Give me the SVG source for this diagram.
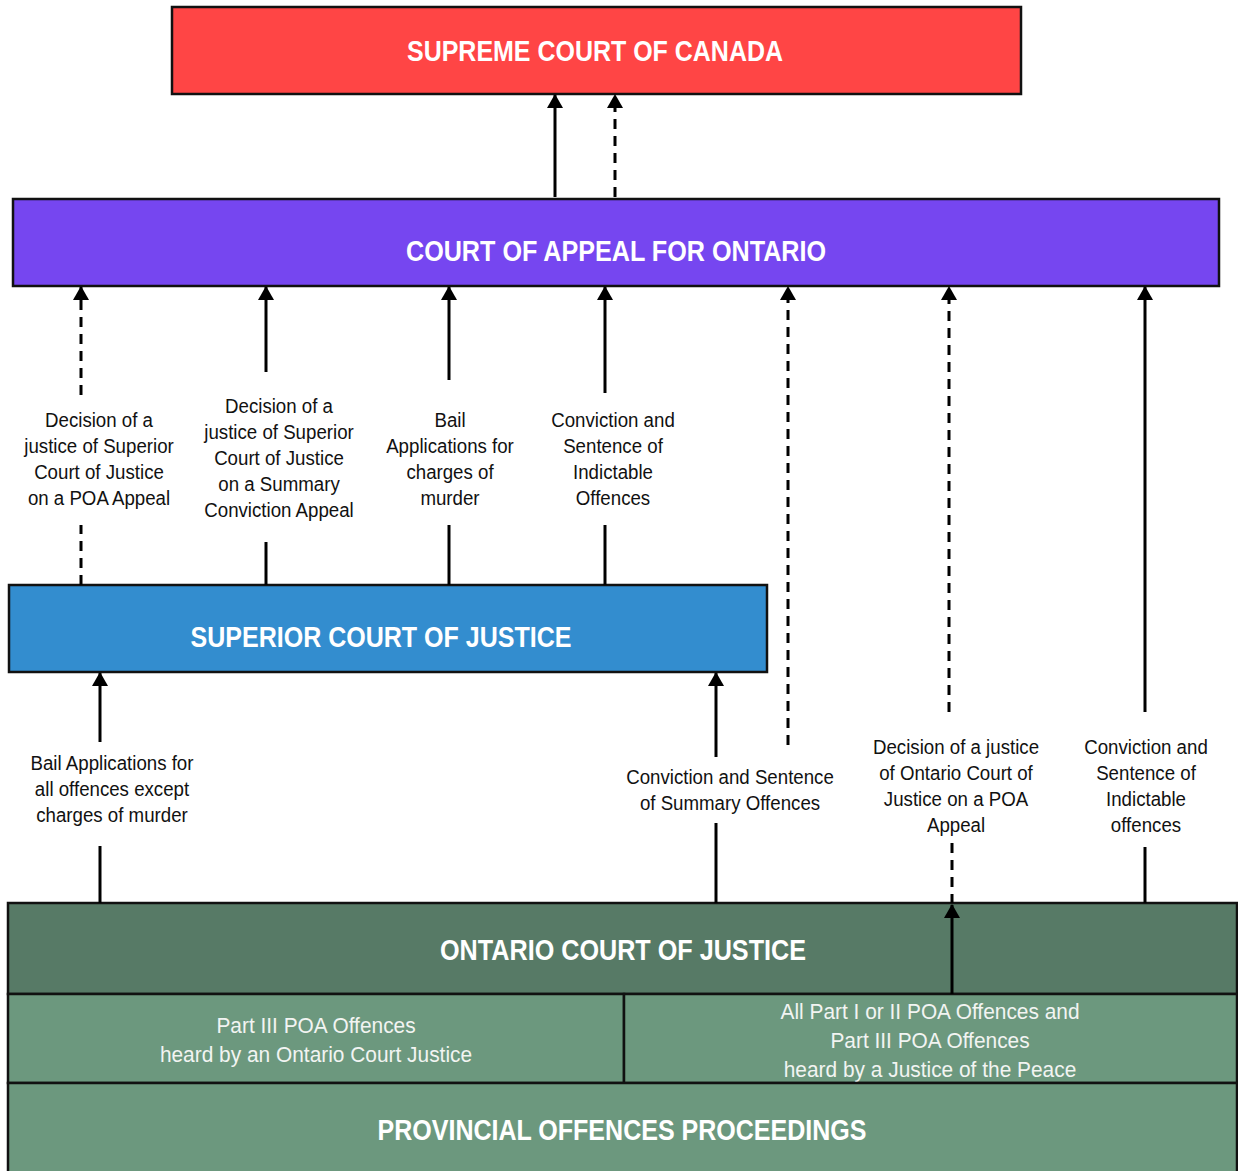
<svg xmlns="http://www.w3.org/2000/svg" width="1238" height="1171" viewBox="0 0 1238 1171">
<style>
.box{stroke:#111;stroke-width:2.5}
.title{font-family:"Liberation Sans",Arial,sans-serif;font-weight:bold;font-size:29px;fill:#fff;text-anchor:middle}
.lbl{font-family:"Liberation Sans",Arial,sans-serif;font-size:21px;fill:#111;text-anchor:middle}
.sub{font-family:"Liberation Sans",Arial,sans-serif;font-size:22px;fill:#f2f4f2;text-anchor:middle}
.c{stroke:#000;stroke-width:3;fill:none}
.d{stroke-dasharray:10 7}
</style>
<defs>
<marker id="ah" markerUnits="userSpaceOnUse" viewBox="0 0 14 16" refX="13" refY="8" markerWidth="14" markerHeight="16" orient="auto">
<path d="M0,0 L14,8 L0,16 z" fill="#000"/>
</marker>
</defs>
<rect width="1238" height="1171" fill="#fff"/>

<g id="supreme">
<rect class="box" x="172" y="7" width="849" height="87" fill="#ff4545"/>
<text class="title" x="595" y="61" textLength="376" lengthAdjust="spacingAndGlyphs">SUPREME COURT OF CANADA</text>
</g>
<g id="appeal">
<rect class="box" x="13" y="199" width="1206" height="87" fill="#7646f0" stroke="#1a1040"/>
<text class="title" x="616" y="261" textLength="420" lengthAdjust="spacingAndGlyphs">COURT OF APPEAL FOR ONTARIO</text>
</g>
<g id="superior">
<rect class="box" x="9" y="585" width="758" height="87" fill="#338dcf"/>
<text class="title" x="381" y="647" textLength="381" lengthAdjust="spacingAndGlyphs">SUPERIOR COURT OF JUSTICE</text>
</g>
<g id="ontario">
<rect class="box" x="8" y="903" width="1229" height="91" fill="#577a66"/>
<text class="title" x="623" y="960" textLength="366" lengthAdjust="spacingAndGlyphs">ONTARIO COURT OF JUSTICE</text>
</g>
<g id="part3-ocj">
<rect class="box" x="8" y="994" width="616" height="89" fill="#6c987e"/>
<g transform="translate(316 0) scale(0.95 1)"><text class="sub"><tspan x="0" y="1033">Part III POA Offences</tspan><tspan x="0" y="1062">heard by an Ontario Court Justice</tspan></text></g>
</g>
<g id="part12-jp">
<rect class="box" x="624" y="994" width="613" height="89" fill="#6c987e"/>
<g transform="translate(930 0) scale(0.95 1)"><text class="sub"><tspan x="0" y="1019">All Part I or II POA Offences and</tspan><tspan x="0" y="1048">Part III POA Offences</tspan><tspan x="0" y="1077">heard by a Justice of the Peace</tspan></text></g>
</g>
<g id="provincial">
<rect class="box" x="8" y="1083" width="1229" height="90" fill="#6c987e"/>
<text class="title" x="622" y="1140" textLength="489" lengthAdjust="spacingAndGlyphs">PROVINCIAL OFFENCES PROCEEDINGS</text>
</g>

<g id="connectors">
<line class="c" x1="555" y1="197" x2="555" y2="95" marker-end="url(#ah)"/>
<line class="c d" x1="615" y1="197" x2="615" y2="95" marker-end="url(#ah)"/>

<line class="c d" x1="81" y1="585" x2="81" y2="525"/>
<line class="c d" x1="81" y1="395" x2="81" y2="287" marker-end="url(#ah)"/>
<line class="c" x1="266" y1="585" x2="266" y2="542"/>
<line class="c" x1="266" y1="372" x2="266" y2="287" marker-end="url(#ah)"/>
<line class="c" x1="449" y1="585" x2="449" y2="525"/>
<line class="c" x1="449" y1="380" x2="449" y2="287" marker-end="url(#ah)"/>
<line class="c" x1="605" y1="585" x2="605" y2="525"/>
<line class="c" x1="605" y1="393" x2="605" y2="287" marker-end="url(#ah)"/>

<line class="c d" x1="788" y1="745" x2="788" y2="287" marker-end="url(#ah)"/>
<line class="c d" x1="949" y1="712" x2="949" y2="287" marker-end="url(#ah)"/>
<line class="c d" x1="952" y1="843" x2="952" y2="903"/>
<line class="c" x1="952" y1="994" x2="952" y2="905" marker-end="url(#ah)"/>
<line class="c" x1="1145" y1="712" x2="1145" y2="287" marker-end="url(#ah)"/>
<line class="c" x1="1145" y1="847" x2="1145" y2="903"/>

<line class="c" x1="100" y1="742" x2="100" y2="673" marker-end="url(#ah)"/>
<line class="c" x1="100" y1="846" x2="100" y2="903"/>
<line class="c" x1="716" y1="757" x2="716" y2="673" marker-end="url(#ah)"/>
<line class="c" x1="716" y1="823" x2="716" y2="903"/>
</g>

<g id="labels">
<g transform="translate(99 0) scale(0.89 1)"><text class="lbl"><tspan x="0" y="427">Decision of a</tspan><tspan x="0" y="453">justice of Superior</tspan><tspan x="0" y="479">Court of Justice</tspan><tspan x="0" y="505">on a POA Appeal</tspan></text></g>
<g transform="translate(279 0) scale(0.89 1)"><text class="lbl"><tspan x="0" y="413">Decision of a</tspan><tspan x="0" y="439">justice of Superior</tspan><tspan x="0" y="465">Court of Justice</tspan><tspan x="0" y="491">on a Summary</tspan><tspan x="0" y="517">Conviction Appeal</tspan></text></g>
<g transform="translate(450 0) scale(0.89 1)"><text class="lbl"><tspan x="0" y="427">Bail</tspan><tspan x="0" y="453">Applications for</tspan><tspan x="0" y="479">charges of</tspan><tspan x="0" y="505">murder</tspan></text></g>
<g transform="translate(613 0) scale(0.89 1)"><text class="lbl"><tspan x="0" y="427">Conviction and</tspan><tspan x="0" y="453">Sentence of</tspan><tspan x="0" y="479">Indictable</tspan><tspan x="0" y="505">Offences</tspan></text></g>
<g transform="translate(112 0) scale(0.89 1)"><text class="lbl"><tspan x="0" y="770">Bail Applications for</tspan><tspan x="0" y="796">all offences except</tspan><tspan x="0" y="822">charges of murder</tspan></text></g>
<g transform="translate(730 0) scale(0.89 1)"><text class="lbl"><tspan x="0" y="784">Conviction and Sentence</tspan><tspan x="0" y="810">of Summary Offences</tspan></text></g>
<g transform="translate(956 0) scale(0.89 1)"><text class="lbl"><tspan x="0" y="754">Decision of a justice</tspan><tspan x="0" y="780">of Ontario Court of</tspan><tspan x="0" y="806">Justice on a POA</tspan><tspan x="0" y="832">Appeal</tspan></text></g>
<g transform="translate(1146 0) scale(0.89 1)"><text class="lbl"><tspan x="0" y="754">Conviction and</tspan><tspan x="0" y="780">Sentence of</tspan><tspan x="0" y="806">Indictable</tspan><tspan x="0" y="832">offences</tspan></text></g>
</g>
</svg>
